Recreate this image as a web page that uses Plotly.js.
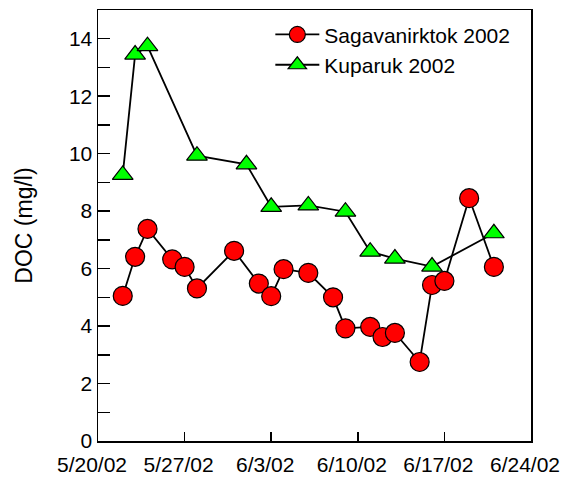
<!DOCTYPE html>
<html>
<head>
<meta charset="utf-8">
<script src="https://cdn.plot.ly/plotly-3.0.1.min.js"></script>
<style>html,body{margin:0;padding:0;background:#fff;}#chart{width:563px;height:478px;}</style>
</head>
<body>
<div id="chart"></div>
<script>
// Sagavanirktok 2002
const sagDates = ['2002-05-22','2002-05-23','2002-05-24','2002-05-26','2002-05-27','2002-05-28','2002-05-31','2002-06-02','2002-06-03','2002-06-04','2002-06-06','2002-06-08','2002-06-09','2002-06-11','2002-06-12','2002-06-13','2002-06-15','2002-06-16','2002-06-17','2002-06-19','2002-06-21'];
const sagDOC = [5.05, 6.41, 7.38, 6.32, 6.06, 5.31, 6.62, 5.48, 5.04, 5.98, 5.85, 5.0, 3.92, 3.97, 3.62, 3.76, 2.75, 5.43, 5.57, 8.45, 6.06];
// Kuparuk 2002
const kupDates = ['2002-05-22','2002-05-23','2002-05-24','2002-05-28','2002-06-01','2002-06-03','2002-06-06','2002-06-09','2002-06-11','2002-06-13','2002-06-16','2002-06-21'];
const kupDOC = [9.26, 13.45, 13.74, 9.93, 9.63, 8.15, 8.2, 7.98, 6.59, 6.35, 6.07, 7.23];
// Axis ticks
const xTickDates = ['2002-05-20','2002-05-27','2002-06-03','2002-06-10','2002-06-17','2002-06-24'];
const xTickLabels = ['5/20/02','5/27/02','6/3/02','6/10/02','6/17/02','6/24/02'];

const FONT = 'Liberation Sans, Arial, sans-serif';

const traces = [
  {
    x: sagDates, y: sagDOC, name: 'Sagavanirktok 2002', type: 'scatter', mode: 'lines+markers',
    line: {color: '#000', width: 1.8},
    marker: {symbol: 'circle', size: 19, color: '#ff0000', line: {color: '#000', width: 1.2}}
  },
  {
    x: kupDates, y: kupDOC, name: 'Kuparuk 2002', type: 'scatter', mode: 'lines+markers',
    line: {color: '#000', width: 1.8},
    marker: {symbol: 'triangle-up', size: 18, color: '#00ff00', line: {color: '#000', width: 1.2}}
  }
];

const layout = {
  width: 563, height: 478,
  margin: {l: 98, r: 32, t: 10, b: 37},
  paper_bgcolor: '#fff', plot_bgcolor: '#fff',
  font: {family: FONT, size: 21, color: '#000'},
  showlegend: true,
  legend: {x: 0.398, y: 0.99, xanchor: 'left', yanchor: 'top', bgcolor: 'rgba(0,0,0,0)',
           itemwidth: 44,
           font: {family: FONT, size: 21, color: '#000'}, tracegroupgap: 0},
  xaxis: {
    type: 'date', range: ['2002-05-20', '2002-06-24'],
    tickmode: 'array', tickvals: xTickDates, ticktext: xTickLabels,
    ticks: 'inside', ticklen: 9, tickwidth: 1.5, tickcolor: '#000',
    ticklabelstandoff: 4, ticklabelshift: -6, ticklabeloverflow: 'allow',
    showline: true, linecolor: '#000', linewidth: 1.5, mirror: true,
    showgrid: false, zeroline: false,
    tickfont: {family: FONT, size: 21, color: '#000'}
  },
  yaxis: {
    range: [0, 15], tick0: 0, dtick: 2,
    ticks: 'inside', ticklen: 12, tickwidth: 1.5, tickcolor: '#000',
    minor: {dtick: 1, tick0: 0, ticks: 'inside', ticklen: 12, tickwidth: 1.5, tickcolor: '#000', showgrid: false},
    showline: true, linecolor: '#000', linewidth: 1.5, mirror: true,
    showgrid: false, zeroline: false,
    tickfont: {family: FONT, size: 21, color: '#000'},
    title: {text: 'DOC (mg/l)', font: {family: FONT, size: 23, color: '#000'}, standoff: 30}
  }
};

Plotly.newPlot('chart', traces, layout, {displayModeBar: false, staticPlot: true});
</script>
</body>
</html>
